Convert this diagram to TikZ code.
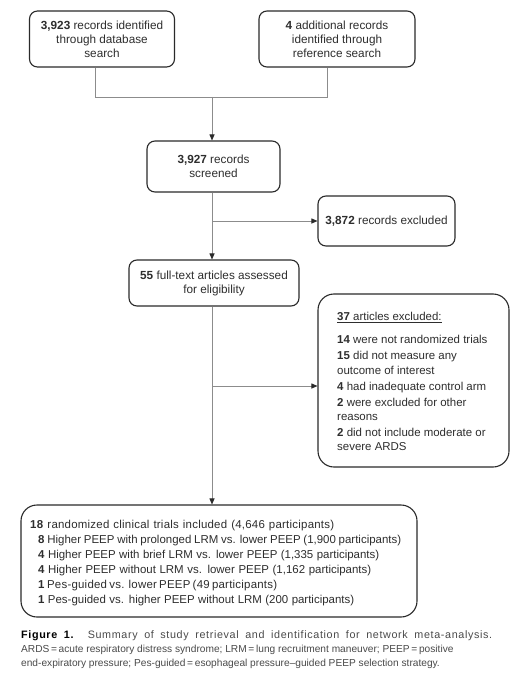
\documentclass[tikz,border=0pt]{standalone}
\usepackage{fontspec}
\setmainfont{Liberation Sans}
\newfontfamily\lsA[LetterSpace=2]{Liberation Sans}
\newfontfamily\lsB[LetterSpace=6]{Liberation Sans}
\usetikzlibrary{arrows.meta}
\definecolor{txt}{HTML}{2E2E2E}
\definecolor{capt}{HTML}{4A4A4A}
\definecolor{conn}{HTML}{8C8C8C}
\definecolor{bord}{HTML}{2A2A2A}
\newcommand{\fitline}[2]{\makebox[#1bp][s]{#2}}
\begin{document}
\begin{tikzpicture}[x=1bp,y=-1bp,
  box/.style={draw=bord, line width=1.1bp, rounded corners=8bp, text=txt,
    align=center, inner sep=0pt, font=\fontsize{11.8}{14}\selectfont},
  bigbox/.style={box, rounded corners=16bp},
  txtblock/.style={text=txt, align=left, inner sep=0pt, anchor=north west},
  connline/.style={draw=conn, line width=0.9bp},
  arr/.style={connline, -{Triangle[length=6bp,width=5bp,color=bord]}}
]
\useasboundingbox[fill=white] (0,0) rectangle (527,677);

\node[box, minimum width=145bp, minimum height=56bp] (b1) at (102,39)
  {\textbf{3,923} records identified\\through database\\search};
\node[box, minimum width=156bp, minimum height=56bp] (b2) at (337,39)
  {\textbf{4} additional records\\identified through\\reference search};
\node[box, minimum width=133bp, minimum height=51bp] (b3) at (213.5,166.5)
  {\textbf{3,927} records\\screened};
\node[box, minimum width=137bp, minimum height=50bp] (ex1) at (386.5,221)
  {\textbf{3,872} records excluded};
\node[box, minimum width=170bp, minimum height=46bp] (b4) at (214,283)
  {\textbf{55} full-text articles assessed\\for eligibility};
\node[bigbox, minimum width=191bp, minimum height=173bp] (ex2) at (413.5,380.5) {};
\node[txtblock, font=\fontsize{11.5}{14.5}\selectfont] (ex2t) at (337,312.3)
  {\underline{\textbf{37} articles excluded:}\\[8.5bp]
   \textbf{14} were not randomized trials\\[1.5bp]
   \textbf{15} did not measure any\\outcome of interest\\[1.5bp]
   \textbf{4} had inadequate control arm\\[1.5bp]
   \textbf{2} were excluded for other\\reasons\\[1.5bp]
   \textbf{2} did not include moderate or\\severe ARDS};
\node[bigbox, minimum width=396bp, minimum height=112bp] (fin) at (219,561) {};
\node[txtblock, font=\fontsize{11.5}{15.1}\selectfont] (fint) at (30,519.8)
  {\fitline{304}{\lsA\textbf{18} randomized clinical trials included (4,646 participants)}\\
   \hspace{8bp}\fitline{363}{\textbf{8} Higher PEEP with prolonged LRM vs. lower PEEP (1,900 participants)}\\
   \hspace{8bp}\fitline{341}{\textbf{4} Higher PEEP with brief LRM vs. lower PEEP (1,335 participants)}\\
   \hspace{8bp}\fitline{333}{\textbf{4} Higher PEEP without LRM vs. lower PEEP (1,162 participants)}\\
   \hspace{8bp}\fitline{239}{\lsA\textbf{1} Pes-guided vs. lower PEEP (49 participants)}\\
   \hspace{8bp}\fitline{316}{\textbf{1} Pes-guided vs. higher PEEP without LRM (200 participants)}};

\coordinate (spine) at (212,0);
\coordinate (j1) at (212,97);
\coordinate (l1) at (95,0);
\coordinate (l2) at (327,0);
\coordinate (j2) at (212,221);
\coordinate (j3) at (212,386);

\draw[connline] (l1 |- b1.south) -- (l1 |- j1) -- (l2 |- j1) -- (l2 |- b2.south);
\draw[arr] (j1) -- (spine |- b3.north);
\draw[arr] (spine |- b3.south) -- (spine |- b4.north);
\draw[arr] (j2) -- (ex1.west |- j2);
\draw[arr] (spine |- b4.south) -- (spine |- fin.north);
\draw[arr] (j3) -- (ex2.west |- j3);

\node[anchor=north west, inner sep=0pt, align=left, text=capt,
  font=\fontsize{10.2}{14}\selectfont] (cap) at (21,630.5)
  {\fitline{471}{\lsB\fontsize{10.8}{14}\selectfont{\color{black}\textbf{Figure 1.}} Summary of study retrieval and identification for network meta-analysis.}\\
   ARDS\,=\,acute respiratory distress syndrome; LRM\,=\,lung recruitment maneuver; PEEP\,=\,positive\\
   end-expiratory pressure; Pes-guided\,=\,esophageal pressure–guided PEEP selection strategy.};
\end{tikzpicture}
\end{document}
